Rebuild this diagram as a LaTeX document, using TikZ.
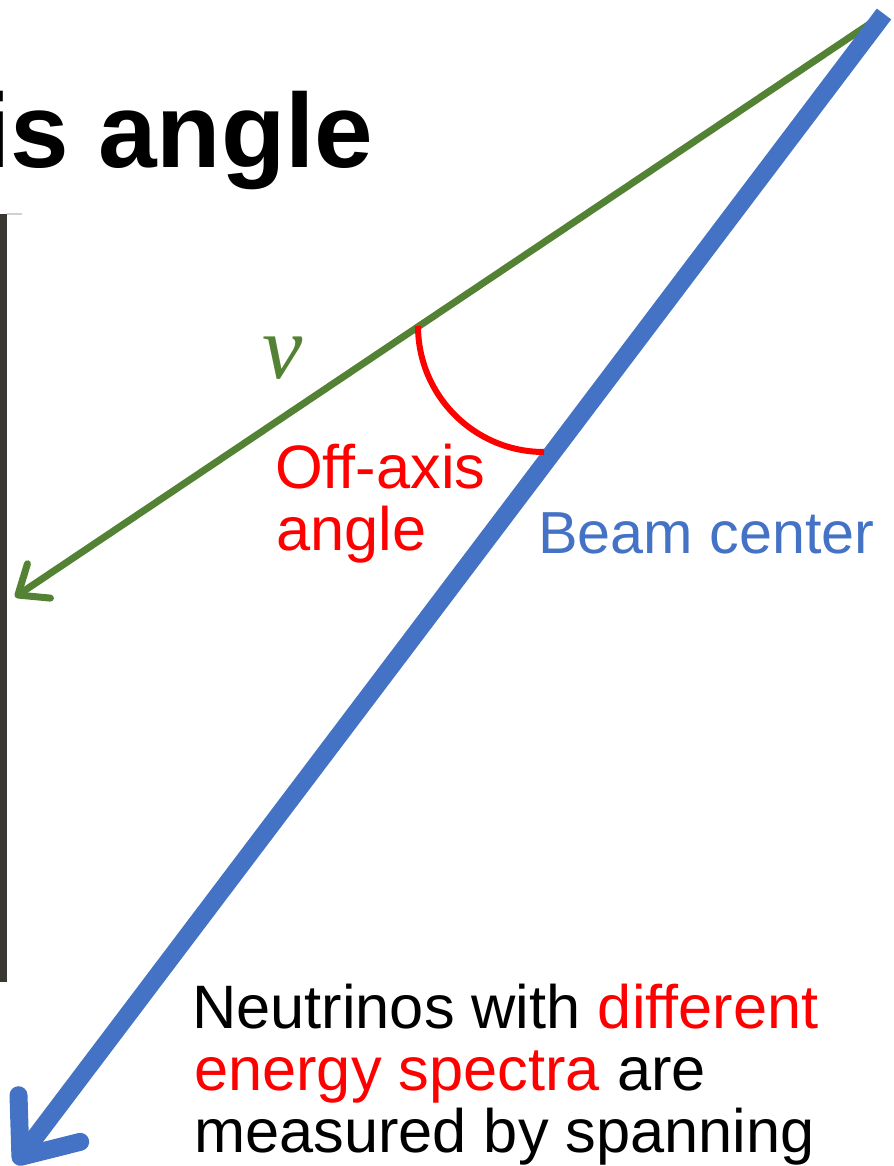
\documentclass[tikz,border=0pt]{standalone}
\usepackage{fontspec}
\setmainfont{Liberation Sans}
\newfontfamily\nufont{Liberation Serif}
\usetikzlibrary{arrows.meta}
\definecolor{beamblue}{HTML}{4472C4}
\definecolor{nugreen}{HTML}{548235}
\definecolor{bardark}{HTML}{3B3834}
\definecolor{angred}{HTML}{FF0000}

\begin{document}
\begin{tikzpicture}[
    x=0.75pt, y=-0.75pt,
    lbl/.style={anchor=base west, inner sep=0pt, font=\fontsize{46}{54}\selectfont},
    nuline/.style={nugreen, line width=5.25pt, -{Straight Barb[length=19pt, width=31pt, round]}},
    beamline/.style={beamblue, line width=13.5pt, -{Straight Barb[length=36pt, width=58pt, round]}}
]
\useasboundingbox (0,0) rectangle (893,1166);

% title and screen edge
\node[lbl, font=\fontsize{79}{90}\selectfont\bfseries] (title) at (-19,168) {is angle};
\fill[bardark] (0,214) rectangle (7,982);
\draw[black!18, line width=1.2pt] (7,214) -- (22,214);

% source point and beam ends
\coordinate (src) at (884,14);
\coordinate (nuend) at (15,597);
\coordinate (beamend) at (15,1164);

\draw[nuline] (877,19) -- (nuend);
\draw[beamline] (src) -- (beamend);

% off-axis angle
\coordinate (arcstart) at (418,326);
\draw[angred, line width=4.5pt] (arcstart) arc[start angle=180, end angle=90, radius=126];

\node[nugreen, inner sep=0pt, font=\nufont\itshape\fontsize{68}{68}\selectfont] (nu) at (283,358) {ν};
\node[lbl, angred] (off1) at (275,488) {Off-axis};
\node[lbl, angred] (off2) at (276,550) {angle};
\node[lbl, beamblue, font=\fontsize{44.5}{54}\selectfont] (center) at (538,553) {Beam center};

% note
\node[lbl] (note1) at (192,1028) {Neutrinos with \textcolor{angred}{different}};
\node[lbl] (note2) at (194,1090) {\textcolor{angred}{energy spectra} are};
\node[lbl] (note3) at (194,1152) {measured by spanning};
\end{tikzpicture}
\end{document}
